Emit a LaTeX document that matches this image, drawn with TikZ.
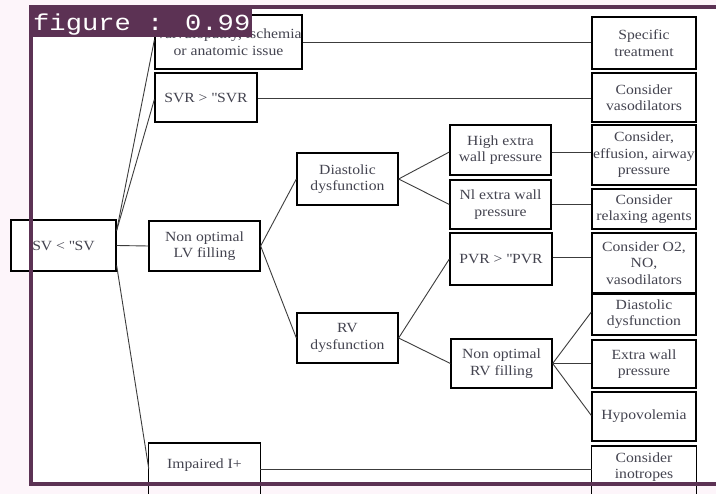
\documentclass[tikz,border=0pt]{standalone}
\usepackage{fontspec}
\setmainfont{Liberation Serif}[FakeStretch=1.12]
\newfontfamily\labelfont{Liberation Mono}[FakeStretch=1.18]
\definecolor{txtcol}{RGB}{68,68,80}
\definecolor{linecol}{RGB}{60,60,60}
\definecolor{framecol}{RGB}{92,50,84}
\definecolor{pinkbg}{RGB}{253,245,250}
\tikzset{
  box/.style={draw=black, line width=1.3pt, fill=white, inner sep=0pt, align=center,
              font=\fontsize{14}{16.5}\selectfont, text=txtcol},
  plain/.style={inner sep=0pt, align=center, font=\fontsize{14}{16.5}\selectfont, text=txtcol},
  openbox/.style={draw=black, line width=1.3pt},
  conn/.style={draw=linecol, line width=0.9pt},
  frame/.style={draw=framecol, line width=4pt},
}
\begin{document}
\begin{tikzpicture}[x=1pt,y=-1pt]
\useasboundingbox (0,0) rectangle (716,494);
\clip (0,0) rectangle (716,494);
\fill[pinkbg] (0,0) rectangle (716,494);
\fill[white] (30,7) rectangle (716,484);

% left column
\node[box, minimum width=105pt, minimum height=51pt] (sv) at (63.5,245.5) {SV < \textquotedbl SV};
\node[box, minimum width=147pt, minimum height=54pt] (isch) at (228.5,42) {Valvulopathy, ischemia\\or anatomic issue};
\node[box, minimum width=102pt, minimum height=49pt] (svr) at (206,97.5) {SVR > \textquotedbl SVR};
\node[box, minimum width=111pt, minimum height=50pt] (lv) at (204.5,246) {Non optimal\\LV filling};
\node[plain, minimum width=111pt] (imp) at (204.5,465) {Impaired I+};
\coordinate (impTop) at (0,443);
\coordinate (imgBot) at (0,520);
\draw[openbox] (imp.west |- imgBot) -- (imp.west |- impTop) -- (imp.east |- impTop) -- (imp.east |- imgBot);

% middle
\node[box, minimum width=101pt, minimum height=52pt] (dias) at (347.5,179) {Diastolic\\dysfunction};
\node[box, minimum width=101pt, minimum height=50pt] (rvd) at (347.5,338) {RV\\dysfunction};
\node[box, minimum width=101pt, minimum height=50pt] (high) at (500.5,150) {High extra\\wall pressure};
\node[box, minimum width=101pt, minimum height=49pt] (nl) at (500.5,204.5) {Nl extra wall\\pressure};
\node[box, minimum width=102pt, minimum height=52pt] (pvr) at (501,259) {PVR > \textquotedbl PVR};
\node[box, minimum width=101pt, minimum height=49pt] (nrv) at (501.5,363.5) {Non optimal\\RV filling};

% right column
\node[box, minimum width=104pt, minimum height=52pt] (spec) at (644,43) {Specific\\treatment};
\node[box, minimum width=104pt, minimum height=49pt] (vaso) at (644,97.5) {Consider\\vasodilators};
\node[box, minimum width=104pt, minimum height=60pt] (eff) at (644,155) {Consider,\\effusion, airway\\pressure};
\node[box, minimum width=104pt, minimum height=40pt] (relax) at (644,209) {Consider\\relaxing agents};
\node[box, minimum width=104pt, minimum height=60pt] (otwo) at (644,263) {Consider O2,\\NO,\\vasodilators};
\node[box, minimum width=104pt, minimum height=42pt] (dd) at (644,314) {Diastolic\\dysfunction};
\node[box, minimum width=104pt, minimum height=48pt] (ewp) at (644,364) {Extra wall\\pressure};
\node[box, minimum width=104pt, minimum height=49pt] (hypo) at (644,416.5) {Hypovolemia};
\node[plain, minimum width=104pt] (ino) at (644,467) {Consider\\inotropes};
\coordinate (inoTop) at (0,446);
\draw[openbox] (ino.west |- imgBot) -- (ino.west |- inoTop) -- (ino.east |- inoTop) -- (ino.east |- imgBot);
\draw[line width=2.5pt] (otwo.south west) -- (otwo.south east);

% connectors
\draw[conn] ([yshift=15pt]sv.east) -- ([yshift=2pt]isch.west);
\draw[conn] ([yshift=15pt]sv.east) -- ([yshift=-2pt]svr.west);
\draw[conn] (sv.east) -- (lv.west);
\draw[conn] ([yshift=-20pt]sv.east) -- ([yshift=-4pt]imp.west);
\draw[conn] (isch.east) -- (isch.east -| spec.west);
\draw[conn] ([yshift=-0.5pt]svr.east) -- ([yshift=-0.5pt]svr.east -| vaso.west);
\draw[conn] (lv.east) -- (dias.west);
\draw[conn] (lv.east) -- (rvd.west);
\draw[conn] (dias.east) -- ([yshift=-2pt]high.west);
\draw[conn] (dias.east) -- (nl.west);
\draw[conn] ([yshift=-2pt]high.east) -- ([yshift=-2pt]high.east -| eff.west);
\draw[conn] (nl.east) -- (nl.east -| relax.west);
\draw[conn] (rvd.east) -- (pvr.west);
\draw[conn] (rvd.east) -- (nrv.west);
\draw[conn] ([yshift=2pt]pvr.east) -- ([yshift=2pt]pvr.east -| otwo.west);
\draw[conn] (nrv.east) -- ([yshift=2pt]dd.west);
\draw[conn] (nrv.east) -- (nrv.east -| ewp.west);
\draw[conn] (nrv.east) -- ([yshift=1pt]hypo.west);
\draw[conn] ([yshift=-4pt]imp.east) -- ([yshift=-4pt]imp.east -| ino.west);

% overlay frame and label
\draw[frame] (730,484) -- (30.5,484) -- (30.5,7) -- (730,7);
\fill[framecol] (28.5,5) rectangle (252,37);
\node[anchor=base west, inner sep=0pt, text=white, font=\labelfont\fontsize{23}{23}\selectfont] (lbl) at (33,31) {figure : 0.99};
\end{tikzpicture}
\end{document}
